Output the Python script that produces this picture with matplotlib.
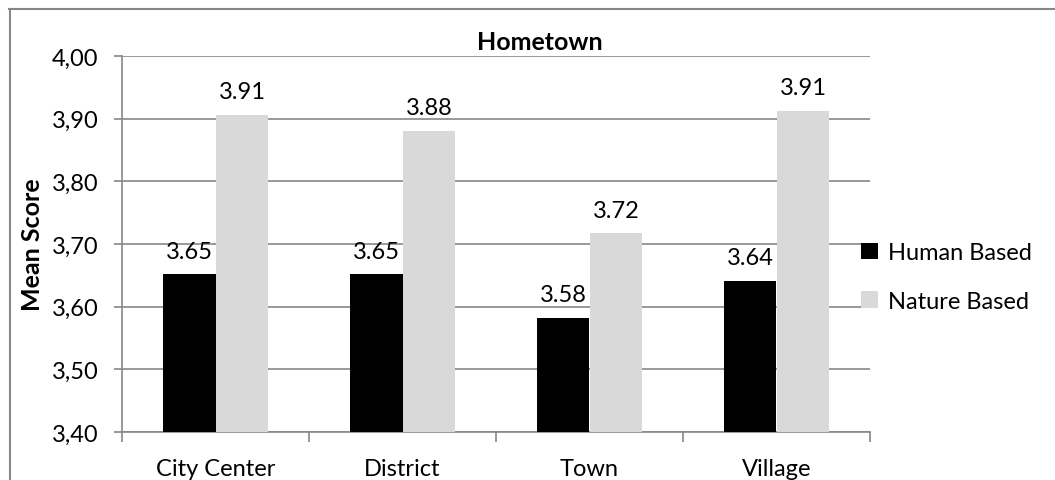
import matplotlib
matplotlib.use("Agg")
import matplotlib.pyplot as plt
import numpy as np

# Data
categories = ["City Center", "District", "Town", "Village"]
human_based = [3.652, 3.652, 3.582, 3.641]
nature_based = [3.906, 3.881, 3.717, 3.913]
series_names = ["Human Based", "Nature Based"]
yticks = [3.40, 3.50, 3.60, 3.70, 3.80, 3.90, 4.00]

plt.rcParams['font.family'] = ['Lato', 'DejaVu Sans']

W, H = 1055, 481
fig = plt.figure(figsize=(W / 100, H / 100), dpi=100)
ax = fig.add_axes([122 / W, 1 - 433 / H, (870 - 122) / W, (433 - 57) / H])

x = np.arange(len(categories))
bw = 0.283
b1 = ax.bar(x - bw / 2, [v - 3.4 for v in human_based], bw, bottom=3.4,
            color='black', label=series_names[0], zorder=3)
b2 = ax.bar(x + bw / 2, [v - 3.4 for v in nature_based], bw, bottom=3.4,
            color='#d9d9d9', label=series_names[1], zorder=3)

# value labels above bars
for bars, vals in ((b1, human_based), (b2, nature_based)):
    for rect, v in zip(bars, vals):
        ax.text(rect.get_x() + rect.get_width() / 2, v + 0.02, f"{v:.2f}",
                ha='center', va='bottom', fontsize=17)

ax.set_ylim(3.4, 4.0)
ax.set_xlim(-0.5, len(categories) - 0.5)
ax.set_yticks(yticks)
ax.set_yticklabels([f"{t:.2f}".replace('.', ',') for t in yticks], fontsize=17)
ax.yaxis.grid(True, color='#878787', linewidth=1.2, zorder=0)
ax.set_axisbelow(True)

ax.set_xticks(x)
ax.set_xticklabels(categories, fontsize=17)
ax.tick_params(axis='x', length=0, pad=19)
ax.set_xticks(np.arange(-0.5, len(categories)), minor=True)
ax.tick_params(axis='x', which='minor', length=7, color='#878787', width=1.2)
ax.tick_params(axis='y', length=6, color='#878787', width=1.2, pad=11)

for s in ['top', 'right']:
    ax.spines[s].set_visible(False)
for s in ['left', 'bottom']:
    ax.spines[s].set_color('#878787')
    ax.spines[s].set_linewidth(1.2)

ax.set_ylabel("Mean Score", fontsize=18, fontweight='bold')
ax.yaxis.set_label_coords((44 - 122) / 748, 0.5)

fig.text(540 / W, 1 - 43 / H, "Hometown", ha='center', va='center',
         fontsize=18, fontweight='bold')

fig.legend(handles=[b1, b2], loc='center left', bbox_to_anchor=(840 / W, 1 - 278 / H),
           frameon=False, fontsize=17, handlelength=0.7, handleheight=0.7,
           handletextpad=0.45, labelspacing=1.15)

# chart border (top and left visible)
fig.add_artist(plt.Line2D([9 / W, 1.0], [1 - 9.5 / H, 1 - 9.5 / H],
                          transform=fig.transFigure, color='#878787', lw=1.5))
fig.add_artist(plt.Line2D([9.5 / W, 9.5 / W], [0, 1 - 9.5 / H],
                          transform=fig.transFigure, color='#878787', lw=1.5))

fig.savefig("out.png", dpi=100)
